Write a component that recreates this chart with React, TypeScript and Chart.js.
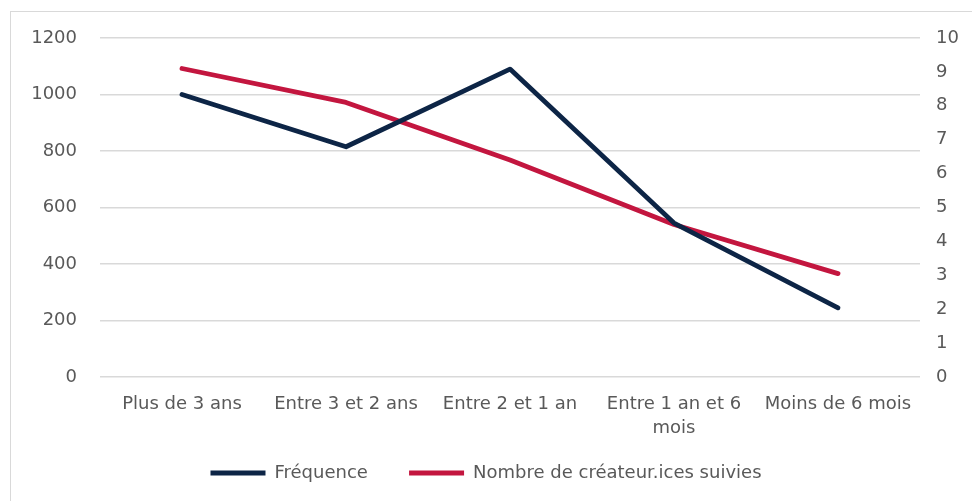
import React, { useEffect, useRef } from "react";
import { Chart, registerables } from "chart.js";

Chart.register(...registerables);

const categories: (string | string[])[] = [
  "Plus de 3 ans",
  "Entre 3 et 2 ans",
  "Entre 2 et 1 an",
  ["Entre 1 an et 6", "mois"],
  "Moins de 6 mois",
];
const frequence = [1000, 815, 1090, 545, 245];
const createurs = [9.1, 8.1, 6.4, 4.5, 3.05];
const seriesNames = ["Fréquence", "Nombre de créateur.ices suivies"];

const NAVY = "#0d2546";
const RED = "#c3163f";
const TEXT = "#595959";
const FONT = "'DejaVu Sans', sans-serif";

export default function App() {
  const ref = useRef<HTMLCanvasElement | null>(null);

  useEffect(() => {
    if (!ref.current) return;
    const chart = new Chart(ref.current, {
      type: "line",
      data: {
        labels: categories,
        datasets: [
          {
            label: seriesNames[0],
            data: frequence,
            borderColor: NAVY,
            backgroundColor: NAVY,
            borderWidth: 4.8,
            pointRadius: 0,
            borderCapStyle: "round",
            borderJoinStyle: "round",
            tension: 0,
            yAxisID: "y",
          },
          {
            label: seriesNames[1],
            data: createurs,
            borderColor: RED,
            backgroundColor: RED,
            borderWidth: 4.8,
            pointRadius: 0,
            borderCapStyle: "round",
            borderJoinStyle: "round",
            tension: 0,
            yAxisID: "y1",
          },
        ],
      },
      options: {
        animation: false,
        responsive: false,
        maintainAspectRatio: false,
        layout: { padding: { top: 38, bottom: 9, left: 0, right: 0 } },
        plugins: {
          tooltip: { enabled: false },
          legend: {
            position: "bottom",
            labels: {
              color: TEXT,
              font: { family: FONT, size: 18 },
              boxWidth: 55,
              boxHeight: 5,
              padding: 24,
              generateLabels: (c: any) => {
                const items = Chart.defaults.plugins.legend.labels.generateLabels(c);
                return items.map((it: any, i: number) => ({
                  ...it,
                  text: i < items.length - 1 ? it.text + "   " : it.text,
                  lineWidth: 0,
                  strokeStyle: "rgba(0,0,0,0)",
                }));
              },
            },
          },
        },
        scales: {
          x: {
            type: "category",
            offset: true,
            grid: { display: false, drawTicks: false },
            border: { display: false },
            ticks: {
              color: TEXT,
              font: { family: FONT, size: 18, lineHeight: 1.333 },
              padding: 15,
              maxRotation: 0,
              autoSkip: false,
            },
            afterFit: (s: any) => {
              s.height = 63;
            },
          },
          y: {
            position: "left",
            min: 0,
            max: 1200,
            ticks: {
              stepSize: 200,
              color: TEXT,
              font: { family: FONT, size: 18 },
              padding: 23,
              callback: (v: any) => String(v),
            },
            grid: { color: "#d9d9d9", lineWidth: 1.5, drawTicks: false },
            border: { display: false },
            afterFit: (s: any) => {
              s.width = 100;
            },
          },
          y1: {
            position: "right",
            min: 0,
            max: 10,
            ticks: {
              stepSize: 1,
              color: TEXT,
              font: { family: FONT, size: 18 },
              padding: 16,
              callback: (v: any) => String(v),
            },
            grid: { display: false, drawTicks: false },
            border: { display: false },
            afterFit: (s: any) => {
              s.width = 52;
            },
          },
        },
      },
    });
    return () => chart.destroy();
  }, []);

  return (
    <div
      style={{
        position: "fixed",
        left: 0,
        top: 0,
        width: 972,
        height: 501,
        overflow: "hidden",
        background: "#ffffff",
      }}
    >
      <div
        style={{
          position: "absolute",
          left: 10,
          top: 11,
          width: 1000,
          height: 600,
          border: "1px solid #d9d9d9",
        }}
      />
      <canvas
        ref={ref}
        width={972}
        height={501}
        style={{ position: "absolute", left: 0, top: 0, width: 972, height: 501 }}
      />
    </div>
  );
}
